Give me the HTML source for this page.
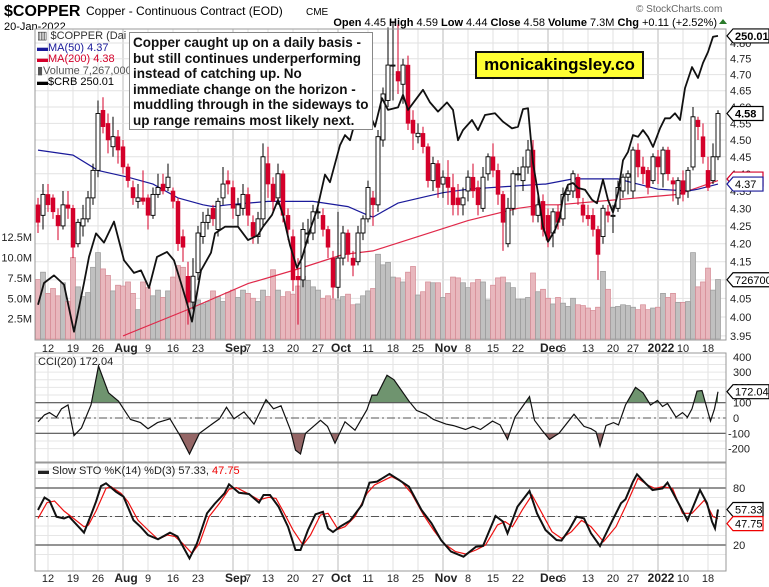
<!DOCTYPE html>
<html><head><meta charset="utf-8"><style>
body{margin:0;background:#fff;}
svg{display:block;font-family:"Liberation Sans",Arial,sans-serif;}
</style></head><body>
<svg id="chart" width="769" height="587" viewBox="0 0 769 587" xmlns="http://www.w3.org/2000/svg">
<rect x="0" y="0" width="769" height="587" fill="#fff"/>
<text x="4" y="16" font-size="16" font-weight="bold">$COPPER</text>
<text x="86" y="15" font-size="12">Copper - Continuous Contract (EOD)</text>
<text x="306" y="15" font-size="10">CME</text>
<text x="4" y="30" font-size="11">20-Jan-2022</text>
<text x="636" y="12" font-size="10" fill="#666">© StockCharts.com</text>
<text x="717" y="26" font-size="11" text-anchor="end"><tspan font-weight="bold">Open</tspan> 4.45  <tspan font-weight="bold">High</tspan> 4.59  <tspan font-weight="bold">Low</tspan> 4.44  <tspan font-weight="bold">Close</tspan> 4.58  <tspan font-weight="bold">Volume</tspan> 7.3M  <tspan font-weight="bold">Chg</tspan> +0.11 (+2.52%)</text>
<path d="M719 24 L723 19 L727 24 Z" fill="#2a7a2a"/>
<g id="g"></g>
</svg>
<script>
// ---- data ----
const openP=[4.31,4.28,4.34,4.33,4.28,4.25,4.31,4.30,4.20,4.25,4.27,4.33,4.41,4.59,4.55,4.48,4.51,4.48,4.42,4.36,4.32,4.33,4.33,4.28,4.34,4.37,4.36,4.35,4.32,4.22,4.11,4.04,4.12,4.22,4.26,4.30,
4.24,4.33,4.38,4.36,4.28,4.30,4.34,4.26,4.22,4.27,4.43,4.37,4.33,4.40,4.28,4.22,4.11,4.10,4.23,4.23,4.29,4.28,4.24,4.16,4.08,4.16,4.23,4.16,4.15,4.23,4.27,4.33,4.31,4.50,
4.62,4.73,4.71,4.67,4.73,4.56,4.51,4.52,4.48,4.38,4.43,4.37,4.39,4.36,4.33,4.31,4.35,4.39,4.36,4.30,4.40,4.45,4.41,4.34,4.20,4.30,4.40,4.38,4.42,4.47,4.28,4.32,4.28,
4.23,4.29,4.27,4.34,4.35,4.39,4.31,4.28,4.28,4.24,4.22,4.29,4.28,4.30,4.35,4.39,4.35,4.47,4.42,4.41,4.38,4.45,4.40,4.47,4.38,4.33,4.38,4.35,4.42,4.56,4.51,4.41,4.38,4.45];
const closeP=[4.26,4.34,4.31,4.29,4.25,4.31,4.30,4.19,4.26,4.27,4.33,4.41,4.58,4.54,4.50,4.51,4.47,4.42,4.38,4.33,4.33,4.32,4.28,4.34,4.36,4.35,4.39,4.32,4.20,4.19,4.04,4.11,4.23,4.26,4.28,4.27,
4.32,4.37,4.37,4.30,4.31,4.34,4.28,4.22,4.27,4.45,4.37,4.32,4.40,4.28,4.24,4.10,4.10,4.24,4.23,4.29,4.29,4.24,4.19,4.08,4.16,4.23,4.17,4.14,4.23,4.27,4.36,4.31,4.51,4.64,
4.73,4.73,4.68,4.73,4.55,4.52,4.52,4.48,4.38,4.43,4.36,4.39,4.36,4.31,4.31,4.33,4.39,4.35,4.31,4.39,4.45,4.41,4.34,4.26,4.30,4.40,4.40,4.42,4.47,4.28,4.31,4.24,4.21,
4.29,4.26,4.34,4.35,4.40,4.33,4.28,4.27,4.24,4.17,4.30,4.28,4.28,4.36,4.39,4.40,4.47,4.42,4.40,4.36,4.45,4.42,4.47,4.40,4.37,4.38,4.34,4.41,4.57,4.54,4.45,4.36,4.45,4.58];
const highP=[4.33,4.37,4.37,4.34,4.30,4.35,4.35,4.31,4.27,4.31,4.35,4.43,4.62,4.63,4.58,4.57,4.53,4.50,4.43,4.38,4.37,4.41,4.34,4.36,4.40,4.40,4.43,4.36,4.33,4.24,4.15,4.16,4.25,4.29,4.30,4.31,
4.33,4.42,4.41,4.38,4.33,4.37,4.36,4.28,4.29,4.49,4.48,4.39,4.43,4.41,4.30,4.24,4.16,4.26,4.27,4.31,4.32,4.30,4.25,4.18,4.29,4.25,4.24,4.18,4.25,4.28,4.38,4.35,4.53,4.66,
4.85,4.87,4.86,4.75,4.76,4.59,4.55,4.54,4.49,4.45,4.44,4.41,4.44,4.40,4.37,4.36,4.41,4.43,4.38,4.42,4.46,4.49,4.43,4.35,4.33,4.41,4.42,4.45,4.50,4.50,4.35,4.34,4.30,
4.30,4.31,4.36,4.37,4.41,4.40,4.33,4.31,4.30,4.25,4.31,4.31,4.31,4.38,4.40,4.41,4.48,4.49,4.45,4.42,4.46,4.47,4.48,4.48,4.39,4.39,4.41,4.42,4.60,4.57,4.55,4.45,4.49,4.59];
const lowP=[4.23,4.24,4.29,4.27,4.21,4.24,4.27,4.16,4.19,4.22,4.26,4.31,4.39,4.52,4.46,4.45,4.43,4.40,4.36,4.31,4.30,4.31,4.24,4.27,4.33,4.34,4.35,4.30,4.18,4.15,3.98,4.02,4.10,4.20,4.24,4.25,
4.22,4.31,4.34,4.27,4.25,4.28,4.25,4.20,4.20,4.25,4.33,4.29,4.31,4.26,4.21,4.07,3.98,4.08,4.20,4.21,4.27,4.22,4.16,4.05,4.05,4.14,4.15,4.11,4.14,4.21,4.26,4.25,4.29,4.48,
4.60,4.62,4.64,4.61,4.53,4.47,4.49,4.46,4.36,4.35,4.33,4.33,4.31,4.28,4.28,4.28,4.32,4.33,4.28,4.29,4.38,4.39,4.31,4.18,4.19,4.28,4.38,4.35,4.40,4.26,4.26,4.22,4.19,
4.19,4.24,4.25,4.32,4.33,4.31,4.26,4.25,4.22,4.10,4.20,4.26,4.23,4.29,4.33,4.34,4.33,4.39,4.37,4.34,4.37,4.37,4.36,4.38,4.32,4.31,4.32,4.33,4.41,4.50,4.43,4.35,4.37,4.44];
const volumeM=[7.3,8.2,5.6,6.2,5.3,6.9,4.6,10.0,6.4,5.2,5.7,8.8,10.6,8.6,7.8,5.9,6.6,6.5,7.0,5.6,3.6,7.0,6.3,5.3,6.0,5.1,5.9,7.6,9.0,8.8,4.5,5.9,4.8,4.3,4.6,5.9,5.2,
4.6,5.7,6.0,5.1,6.0,5.6,5.0,4.6,6.0,5.2,8.5,6.0,5.2,5.8,5.5,6.5,7.7,7.2,6.4,6.0,5.0,5.3,4.9,4.8,5.2,5.5,4.2,4.3,5.3,5.9,6.2,10.4,9.1,9.4,
7.6,7.5,7.0,8.2,8.9,5.4,5.8,7.0,6.9,6.9,5.1,5.6,7.6,7.5,6.9,6.3,6.9,7.3,7.0,4.8,6.6,7.5,7.6,6.9,6.3,4.9,4.9,5.1,8.1,5.8,6.1,5.0,
4.3,5.1,4.4,4.0,5.0,4.2,4.1,3.8,3.5,3.9,8.3,6.1,3.9,4.0,4.2,4.1,3.9,3.6,4.2,3.6,3.8,3.9,5.6,5.1,5.6,4.5,4.5,4.6,10.6,6.4,7.0,8.7,6.0,7.3];
const ma50Idx=[0,7,12,18,23,28,33,35,38,42,46,51,55,62,66,67,72,78,81,86,96,101,101.5,107,116,120,124,130,132,136];
const ma50Val=[4.47,4.455,4.41,4.39,4.37,4.33,4.31,4.305,4.31,4.315,4.32,4.32,4.32,4.305,4.28,4.275,4.315,4.335,4.345,4.355,4.365,4.37,4.37,4.385,4.385,4.37,4.355,4.35,4.355,4.37];
const ma200Idx=[17,30,42,52,61,67,76,86,96,101,104,116,128,136];
const ma200Val=[3.95,4.02,4.09,4.13,4.17,4.18,4.22,4.265,4.30,4.31,4.31,4.325,4.34,4.38];
const crbIdx=[0,1.2,3.2,5.2,7.2,9.2,10.2,11.6,13.2,15.2,17.2,19.2,20.6,22.2,23.8,25.8,27.2,28.6,29.8,30.8,32.6,34.6,35.4,37.4,40,42,44,45,46.8,48,49,50.4,51.8,52.8,54.4,55.8,57.4,58.4,60.4,61.4,62.4,63.8,64.8,66,67.4,68.8,70,72,73,74,77,78.4,80,81.8,83,84,85,86.8,88,89.4,91.4,93,94.8,96,97,98,99,100,101,102,103.4,104.4,105,106,107,108,109.4,110.8,111.8,113,114,115,116,117,118,119,120,121,122,123,124.4,125.4,126.4,127.4,128.4,129.4,130.8,132,133,134,135,136];
const crbVal=[218.0,220.6,221.5,220.4,214.8,220.6,223.7,226.5,225.4,227.9,223.3,221.8,222.1,220.0,223.7,224.3,223.3,220.6,218.2,216.0,222.1,224.2,226.5,227.3,227.3,225.7,226.3,227.3,228.7,230.5,228.7,225.1,222.4,223.6,226.9,229.3,233.5,232.6,237.0,238.2,237.6,240.6,239.4,241.2,239.2,242.6,241.2,241.5,243.0,241.2,243.6,242.1,241.0,242.1,241.2,237.6,238.8,240.0,238.8,240.6,240.8,239.8,239.0,239.2,241.3,241.4,234.9,231.3,227.3,225.5,226.9,228.5,230.8,232.3,232.5,231.9,231.7,230.5,230.1,232.9,230.5,229.0,231.3,235.2,236.2,238.2,238.0,238.8,238.0,236.8,239.0,240.2,240.2,240.8,240.0,243.8,246.3,245.0,246.8,248.1,249.9,250.01];
const cciIdx=[0,1.3,2.3,3.7,4.7,6.0,7.2,8.7,10.6,12.1,14.1,16.1,18.5,20.5,22.0,23.9,26.4,28.4,30.3,32.3,34.8,36.3,37.7,39.2,41.2,43.2,45.6,47.1,48.6,50.5,51.5,52.5,53.5,56.5,57.9,59.4,61.4,63.4,65.8,66.8,67.8,69.8,71.2,74.2,75.7,77.6,79.1,81.6,83.1,85.5,87.0,88.5,90.9,92.4,93.9,95.4,98.3,99.3,100.8,102.3,104.2,107.2,109.2,110.6,111.6,112.4,113.6,115.1,116.1,117.5,119.5,121.0,122.5,123.9,124.9,125.9,127.6,128.9,129.9,130.8,131.8,132.8,134.5,135.3,136];
const cciVal=[-25,20,35,5,60,85,-115,-65,85,340,165,110,-10,-30,-70,-30,-5,-115,-235,-100,-40,-5,70,-5,40,-40,120,60,80,-80,-210,-235,-100,-15,-55,-165,-25,-80,55,150,150,280,250,110,50,25,-10,-40,-50,-75,-55,-75,-20,-45,-140,5,140,-15,-80,-140,-100,25,-55,-70,-90,-185,-50,-30,-45,85,200,165,85,115,75,95,5,35,5,60,175,180,-20,60,172.04];
const kIdx=[0,1.3,2.3,3.7,5.2,6.2,9.2,10.6,11.6,12.6,13.6,15.6,17.1,19.1,20.5,22.0,24.0,26.4,27.9,30.3,31.8,33.8,35.3,37.3,38.2,40.2,42.2,44.2,45.1,46.4,48.1,50.0,51.5,52.5,54.0,55.5,57.0,58.0,59.0,60.4,62.4,64.8,66.3,67.8,70.3,72.2,74.2,76.7,78.7,80.6,82.6,85.1,87.6,89.0,91.5,93.0,93.9,95.9,98.3,99.8,101.5,103.7,104.7,106.2,107.7,109.2,110.6,112.4,114.6,116.6,117.5,119.0,119.8,121.5,122.9,124.9,125.9,127.4,129.9,132.4,133.8,134.8,135.4,136];
const kVal=[56.8,70,66.6,49.8,48,50,33,51.6,65.6,82,85,76,71,46,39.3,30.5,26,33,28.9,6,21.8,53.4,63.2,74.4,83.9,75,73.7,64.6,72.6,72.6,60.4,39.3,14.7,14.7,35.8,52.3,55,37.5,33.7,39.3,45.6,62.2,85.7,86.7,94.8,88.5,81.4,56.8,42.8,25.3,13,7.7,18.2,18.9,50.5,44.6,32.3,60.4,76.8,53.4,35.8,25.3,24.6,35.8,49.8,48,32.3,18.9,42.8,63.9,68.1,86.7,94.4,85,77.9,79.6,85.7,71,46,77.9,63.9,44.6,37.5,57.33];
const dIdx=[0,1.8,3.3,5.2,7.1,9.2,10.1,11.6,13.6,14.6,16.6,18.0,20.0,22.0,24.0,25.9,27.4,28.9,30.8,32.3,34.2,36.3,38.2,39.7,41.7,44.2,46.1,47.6,49.1,51.0,53.0,54.5,56.5,58.0,60.0,61.4,63.4,65.8,67.3,70.7,72.7,74.7,77.1,79.1,81.1,83.5,85.5,87.6,89.5,91.9,93.4,94.9,96.9,98.8,100.8,102.8,104.7,106.7,108.7,110.6,113.1,115.6,117.5,120.0,121.9,123.4,124.9,126.9,128.9,130.8,133.3,135.0,136];
const dVal=[48,64.6,66.3,55.8,48,39.3,41,55.8,79.6,81.4,74.4,65.6,46,35.8,26,30.5,28.9,21.8,11.2,21.8,49.8,63.9,78.6,80.4,75,67.4,70.2,69.1,55,35.8,20,30.5,51.6,53.4,36.5,39.3,49.8,74.4,83.2,92,86.7,74.4,51.6,35.8,21.8,13,10.5,14.7,20,41,44.6,39.3,57.3,72.6,53.4,34,27,34,46,39.3,23.5,39.3,60.4,90.2,83.2,79.6,81.4,79.6,53.4,53.4,67.4,49.8,47.75];
const dateLabels=["12","19","26","Aug","9","16","23","Sep","7","13","20","27","Oct","11","18","25","Nov","8","15","22","Dec","6","13","20","27","2022","10","18"];
const dateIdx=[2,7,12,17,22,27,32,39,42,46,51,56,60,66,71,76,81,86,91,96,102,105,110,115,119,124,129,134];
const priceTicks=[4.80,4.75,4.70,4.65,4.60,4.55,4.50,4.45,4.40,4.35,4.30,4.25,4.20,4.15,4.10,4.05,4.00,3.95];
const volTicks=[2.5,5.0,7.5,10.0,12.5];
const cciTicks=[400,300,200,100,0,-100,-200];
const stoTicks=[80,20];

// ---- geometry ----
const L=35,R=726,MT=29,MB=340,CT=353,CB=462,ST=463,SB=571;
const X=i=>38+i*5;
const Y=p=>43+1503*Math.log(4.8/p);
const YV=v=>339-v*8.15;
const YC=v=>36+(250-v)*8.4;
const YCCI=v=>418-v*0.153;
const YS=v=>564-v*0.95;
const NS="http://www.w3.org/2000/svg";
const G=document.getElementById('g');
function mk(tag,attrs,parent){const e=document.createElementNS(NS,tag);for(const k in attrs)e.setAttribute(k,attrs[k]);(parent||G).appendChild(e);return e;}
function pts(idx,val,fy){return idx.map((i,k)=>X(i).toFixed(1)+','+fy(val[k]).toFixed(1)).join(' ');}

[[MT,MB,'main-panel'],[CT,CB,'cci-panel'],[ST,SB,'sto-panel']].forEach(([t,b,n])=>{
  const r=mk('rect',{x:L,y:t,width:R-L,height:b-t,fill:'#fff',stroke:'none'});
  
  
});
dateIdx.forEach((d,k)=>{
  const isMonth=/[A-Za-z]|2022/.test(dateLabels[k]);
  [[MT,MB],[CT,CB],[ST,SB]].forEach(([t,b])=>{
    const ln=mk('line',{x1:X(d),x2:X(d),y1:t,y2:b,stroke:isMonth?'#bbb':'#e2e2e2','stroke-width':1});
    
    
  });
});
priceTicks.forEach(p=>{
  const y=Y(p);
  const ln=mk('line',{x1:L,x2:R,y1:y,y2:y,stroke:'#e2e2e2'});
  
  
  const t=mk('text',{x:730,y:y+4,'font-size':11,fill:'#222'});
  t.textContent=p.toFixed(2);
  
  
});
volTicks.forEach(v=>{
  const t=mk('text',{x:32,y:YV(v)+4,'font-size':11,'text-anchor':'end',fill:'#222'});
  t.textContent=v.toFixed(1)+'M';
  
  
});
volumeM.forEach((v,i)=>{
  const down=closeP[i]<openP[i];
  const b=mk('rect',{x:X(i)-2.5,y:YV(v),width:5,height:339-YV(v),fill:down?'#e8b7bd':'#c0c0c0',stroke:down?'#d48a94':'#9a9a9a','stroke-width':0.7});
  
  
});
let l1=mk('polyline',{points:pts(ma200Idx,ma200Val,Y),fill:'none',stroke:'#e0294a','stroke-width':1.2});


let l2=mk('polyline',{points:pts(ma50Idx,ma50Val,Y),fill:'none',stroke:'#1a1a9a','stroke-width':1.2});


openP.forEach((o,i)=>{
  const c=closeP[i],up=c>=o,x=X(i);
  const col=up?'#000':'#d4002a';
  const w=mk('line',{x1:x,x2:x,y1:Y(highP[i]),y2:Y(lowP[i]),stroke:col,'stroke-width':1});
  
  
  const top=Y(Math.max(o,c)),bot=Y(Math.min(o,c));
  const b=mk('rect',{x:x-2,y:top,width:4,height:Math.max(1,bot-top),fill:up?'#fff':'#d4002a',stroke:up?'#000':'#d4002a','stroke-width':up?0.9:0.5});
  
  
});
let crb=mk('polyline',{points:pts(crbIdx,crbVal,YC),fill:'none',stroke:'#111','stroke-width':1.8,'stroke-linejoin':'round'});



const defs=mk('defs',{});
const cpA=mk('clipPath',{id:'cciAbove'},defs);mk('rect',{x:L,y:CT,width:R-L,height:YCCI(100)-CT},cpA);
const cpB=mk('clipPath',{id:'cciBelow'},defs);mk('rect',{x:L,y:YCCI(-100),width:R-L,height:CB-YCCI(-100)},cpB);
for(let v=-200;v<=400;v+=50){
  const ln=mk('line',{x1:L,x2:R,y1:YCCI(v),y2:YCCI(v),stroke:'#e6e6e6'});
  
  
}
const cciPts=pts(cciIdx,cciVal,YCCI);
const x0=X(cciIdx[0]).toFixed(1),x1=X(cciIdx[cciIdx.length-1]).toFixed(1);
let fa=mk('polygon',{points:x0+','+YCCI(100)+' '+cciPts+' '+x1+','+YCCI(100),fill:'#6f946f','clip-path':'url(#cciAbove)'});


let fb=mk('polygon',{points:x0+','+YCCI(-100)+' '+cciPts+' '+x1+','+YCCI(-100),fill:'#946666','clip-path':'url(#cciBelow)'});


[100,-100].forEach(v=>{const ln=mk('line',{x1:L,x2:R,y1:YCCI(v),y2:YCCI(v),stroke:'#555','stroke-width':1.2});

});
let z=mk('line',{x1:L,x2:R,y1:YCCI(0),y2:YCCI(0),stroke:'#555','stroke-dasharray':'8,3,2,3'});


let cl=mk('polyline',{points:cciPts,fill:'none',stroke:'#111','stroke-width':1.2});


cciTicks.forEach(v=>{const t=mk('text',{x:v<0?728:733,y:YCCI(v)+4,'font-size':11,fill:'#222'});t.textContent=v;

});

for(let v=10;v<=100;v+=10){
  const ln=mk('line',{x1:L,x2:R,y1:YS(v),y2:YS(v),stroke:'#e6e6e6'});
  
  
}
stoTicks.forEach(v=>{const ln=mk('line',{x1:L,x2:R,y1:YS(v),y2:YS(v),stroke:'#555','stroke-width':1.2});


const t=mk('text',{x:733,y:YS(v)+4,'font-size':11,fill:'#222'});t.textContent=v;

});
let sm=mk('line',{x1:L,x2:R,y1:YS(50),y2:YS(50),stroke:'#555','stroke-dasharray':'8,3,2,3'});


let dl=mk('polyline',{points:pts(dIdx,dVal,YS),fill:'none',stroke:'#ee1111','stroke-width':1.2});


let kl=mk('polyline',{points:pts(kIdx,kVal,YS),fill:'none',stroke:'#111','stroke-width':2});



[[MT,MB],[CT,CB],[ST,SB]].forEach(([t,b])=>{const r=mk('rect',{x:L,y:t,width:R-L,height:b-t,fill:'none',stroke:'#999'});

});
[352,582].forEach(yy=>{
  dateLabels.forEach((s,k)=>{
    const isMonth=/[A-Za-z]|2022/.test(s);
    const t=mk('text',{x:X(dateIdx[k])+(isMonth?3:0),y:yy,'font-size':isMonth?12:11,'font-weight':isMonth?'bold':'normal','text-anchor':'middle',fill:'#222'});
    t.textContent=s;
    
    
  });
});
function tag(y,txt,border,bold,name,w){
  const x=727;
  const p=mk('path',{d:`M${x} ${y} L${x+6} ${y-7} L${x+6+w} ${y-7} L${x+6+w} ${y+7} L${x+6} ${y+7} Z`,fill:'#fff',stroke:border,'stroke-width':1.2});
  
  
  const t=mk('text',{x:x+8,y:y+4,'font-size':11,'font-weight':bold?'bold':'normal',fill:'#000'});
  t.textContent=txt;
  
  
}
tag(YC(crbVal[crbVal.length-1]),'250.01','#000',true,'crb-value-tag',36);
tag(Y(closeP[closeP.length-1]),'4.58','#000',true,'close-value-tag',30);
tag(Y(4.37)-5,'','#d4002a',false,'ma200-value-tag',30);
tag(Y(4.37),'4.37','#1a1a9a',false,'ma50-value-tag',30);
tag(YV(7.267),'7267000','#000',false,'volume-value-tag',40);
tag(YCCI(172.04),'172.04','#000',false,'cci-value-tag',36);
tag(YS(57.33),'57.33','#000',false,'sto-k-value-tag',30);
tag(YS(47.75)+5,'47.75','#e00',false,'sto-d-value-tag',30);
</script>
<div style="position:absolute;left:0;top:0;width:769px;height:587px;pointer-events:none;font-family:'Liberation Sans',Arial,sans-serif;">
  <div style="position:absolute;left:37px;top:31px;font-size:11px;line-height:11.6px;color:#333;">
    <div>▥ $COPPER (Dai</div>
    <div style="color:#1a1a9a;">▬MA(50) 4.37</div>
    <div style="color:#d4002a;">▬MA(200) 4.38</div>
    <div style="color:#555;">▮Volume 7,267,000</div>
    <div style="color:#000;">▬$CRB 250.01</div>
  </div>
  <div style="position:absolute;left:129px;top:32px;width:236px;height:92px;background:#fff;border:1px solid #888;padding:2px 3px;font-size:13.5px;font-weight:bold;line-height:15.5px;color:#111;white-space:nowrap;">Copper caught up on a daily basis -<br>but still continues underperforming<br>instead of catching up. No<br>immediate change on the horizon -<br>muddling through in the sideways to<br>up range remains most likely next.</div>
  <div style="position:absolute;left:475px;top:51px;width:165px;height:24px;background:#ffff33;border:2px solid #111;font-size:17px;font-weight:bold;line-height:24px;text-align:center;color:#000;">monicakingsley.co</div>
  <div style="position:absolute;left:38px;top:356px;font-size:11px;color:#222;">CCI(20) 172.04</div>
  <div style="position:absolute;left:38px;top:465px;font-size:11px;color:#222;">▬ Slow STO %K(14) %D(3) 57.33, <span style="color:#e00">47.75</span></div>
</div>
</body></html>
